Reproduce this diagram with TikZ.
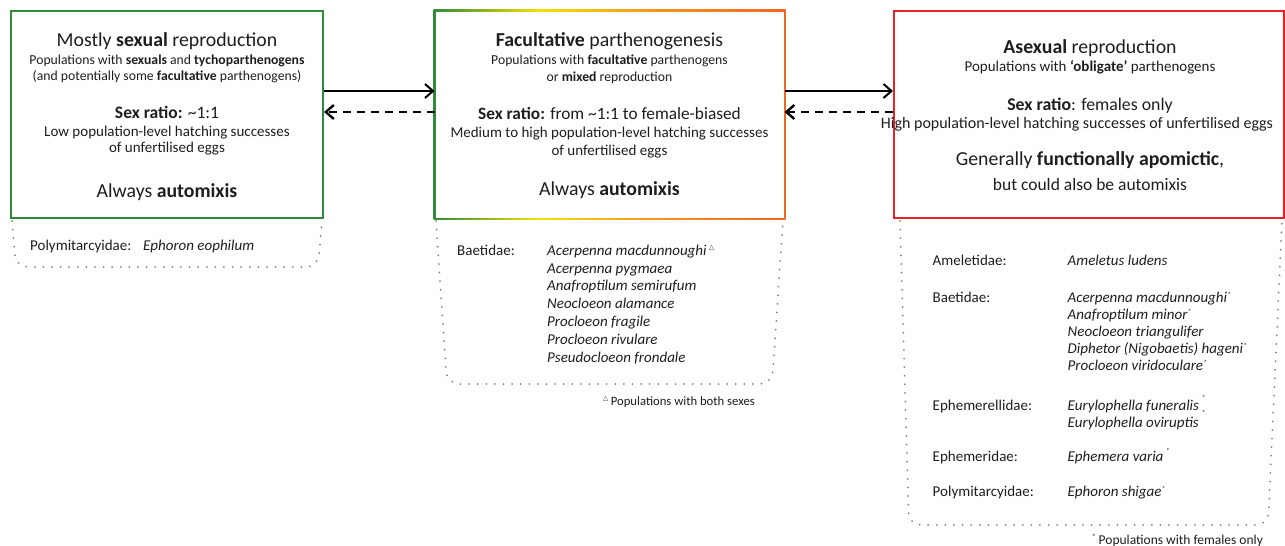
\documentclass[tikz,border=0pt]{standalone}
\usepackage{fontspec}
\setmainfont{Carlito}
\newfontfamily\symfont{DejaVu Sans}
\usetikzlibrary{arrows.meta}
\definecolor{boxgreen}{RGB}{46,139,58}
\definecolor{boxred}{RGB}{232,35,40}
\definecolor{gyellow}{RGB}{245,225,0}
\definecolor{gorange}{RGB}{247,148,30}
\definecolor{gorred}{RGB}{242,101,34}
\definecolor{txt}{RGB}{30,30,30}
\definecolor{dotgray}{RGB}{130,130,130}
\pgfdeclarehorizontalshading{gyo}{100bp}{color(0bp)=(boxgreen); color(25bp)=(boxgreen); color(40bp)=(gyellow); color(56bp)=(gorange); color(75bp)=(gorred); color(100bp)=(gorred)}
\newcommand{\tri}{\textsuperscript{\symfont\fontsize{6.5}{6.5}\selectfont △}}
\newcommand{\fnstar}{\textsuperscript{\fontsize{7.5}{7.5}\selectfont *}}
\newcommand{\rstar}[1]{\raisebox{#1}{\fontsize{7.5}{7.5}\selectfont *}}
\begin{document}
\begin{tikzpicture}[x=1pt,y=-1pt,
  every node/.style={text=txt,inner sep=0pt},
  panel/.style={draw=#1,line width=2pt,minimum width=312pt,minimum height=207pt},
  ttitle/.style={anchor=base,font=\fontsize{19.8}{23}\selectfont},
  tsex/.style={anchor=base,font=\fontsize{#1}{20}\selectfont},
  tbody/.style={anchor=base,font=\fontsize{15}{18}\selectfont},
  tsmall/.style={anchor=base,font=\fontsize{13.7}{16}\selectfont},
  fam/.style={anchor=base west,font=\fontsize{15}{18}\selectfont},
  spec/.style={anchor=base west,font=\fontsize{15}{18}\selectfont\itshape},
  foot/.style={anchor=base west,font=\fontsize{#1}{15}\selectfont},
  solidarrow/.style={line width=2pt,-{Straight Barb[length=8pt,width=14pt]}},
  dasharrow/.style={line width=2.4pt,dash pattern=on 8pt off 6pt,-{Straight Barb[length=8pt,width=14pt]}},
  dotline/.style={dotgray,line width=2pt,line cap=round,dash pattern=on 0pt off 8.6pt,rounded corners=12pt}]
\useasboundingbox (0,0) rectangle (1285,546);
% panels
\node[panel=boxgreen] (b1) at (167,114.5) {};
\shade[shading=gyo] (433.5,9.5) rectangle (785.5,219.5);
\node[fill=white,minimum width=348pt,minimum height=206pt,outer sep=1pt] (b2) at (609.5,114.5) {};
\node[panel=boxred,minimum width=390pt] (b3) at (1089,114.5) {};
% arrows
\coordinate (ya) at (0,91);
\coordinate (yb) at (0,112);
\draw[solidarrow] (b1.east |- ya) -- (b2.west |- ya);
\draw[dasharrow] (b2.west |- yb) -- (b1.east |- yb);
\draw[solidarrow] (b2.east |- ya) -- (b3.west |- ya);
\draw[dasharrow] (b3.west |- yb) -- (b2.east |- yb);
% box 1 text
\node[ttitle] at (167,46) {Mostly \textbf{sexual} reproduction};
\node[tsmall] at (167,64) {Populations with \textbf{sexuals} and \textbf{tychoparthenogens}};
\node[tsmall] at (167,80) {(and potentially some \textbf{facultative} parthenogens)};
\node[tsex=17.5] at (167,118) {\textbf{Sex ratio:} \textasciitilde1:1};
\node[tbody] at (167,136) {Low population-level hatching successes};
\node[tbody] at (167,152) {of unfertilised eggs};
\node[ttitle] at (167,197) {Always \textbf{automixis}};
% box 2 text
\node[ttitle] at (609.5,46) {\textbf{Facultative} parthenogenesis};
\node[tsmall] at (609.5,64) {Populations with \textbf{facultative} parthenogens};
\node[tsmall] at (609.5,81) {or \textbf{mixed} reproduction};
\node[tsex=17.3] at (609.5,119) {\textbf{Sex ratio:} from \textasciitilde1:1 to female-biased};
\node[tbody] at (609.5,137) {Medium to high population-level hatching successes};
\node[tbody] at (609.5,155) {of unfertilised eggs};
\node[ttitle] at (609.5,195) {Always \textbf{automixis}};
% box 3 text
\node[ttitle] at (1090,53) {\textbf{Asexual} reproduction};
\node[tsex=15] at (1090,71) {Populations with \textbf{‘obligate’} parthenogens};
\node[tsex=17.8] at (1090,110) {\textbf{Sex ratio}: females only};
\node[tsex=16] at (1077,128) {High population-level hatching successes of unfertilised eggs};
\node[ttitle] at (1090,165) {Generally \textbf{functionally apomictic},};
\node[tsex=17.5] at (1090,190) {but could also be automixis};
% dotted lists
\draw[dotline] (12,221) -- (16,267) -- (318,267) -- (322,221);
\draw[dotline] (436,221) -- (447,384) -- (772,384) -- (783,221);
\draw[dotline] (900,221) -- (909,525) -- (1268,525) -- (1282,221);
% list 1
\node[fam] at (30,250) {Polymitarcyidae:};
\node[spec] at (143,250) {Ephoron eophilum};
% list 2
\node[fam] at (457,255) {Baetidae:};
\node[spec] at (547,255) {Acerpenna macdunnoughi\,\tri};
\node[spec] at (547,273) {Acerpenna pygmaea};
\node[spec] at (547,290.8) {Anafroptilum semirufum};
\node[spec] at (547,308.8) {Neocloeon alamance};
\node[spec] at (547,326.6) {Procloeon fragile};
\node[spec] at (547,344.4) {Procloeon rivulare};
\node[spec] at (547,362.2) {Pseudocloeon frondale};
\node[foot=12.7] at (603,405) {\tri\,Populations with both sexes};
% list 3
\node[fam] at (932.5,265.7) {Ameletidae:};
\node[spec] at (1067.5,265.7) {Ameletus ludens};
\node[fam] at (932.5,302.7) {Baetidae:};
\node[spec] at (1067.5,302.7) {Acerpenna macdunnoughi\fnstar};
\node[spec] at (1067.5,319.6) {Anafroptilum minor\fnstar};
\node[spec] at (1067.5,336.5) {Neocloeon triangulifer};
\node[spec] at (1067.5,353.5) {Diphetor (Nigobaetis) hageni\fnstar};
\node[spec] at (1067.5,370.7) {Procloeon viridoculare\fnstar};
\node[fam] at (932.5,410) {Ephemerellidae:};
\node[spec] at (1067.5,410) {Eurylophella funeralis\,\rlap{\rstar{10pt}}\rstar{-5pt}};
\node[spec] at (1067.5,427.3) {Eurylophella oviruptis};
\node[fam] at (932.5,461.7) {Ephemeridae:};
\node[spec] at (1067.5,461.7) {Ephemera varia\,\rstar{8pt}};
\node[fam] at (932.5,496.7) {Polymitarcyidae:};
\node[spec] at (1067.5,496.7) {Ephoron shigae\fnstar};
\node[foot=13.5] at (1092,544.5) {\fnstar\,Populations with females only};
\end{tikzpicture}
\end{document}
